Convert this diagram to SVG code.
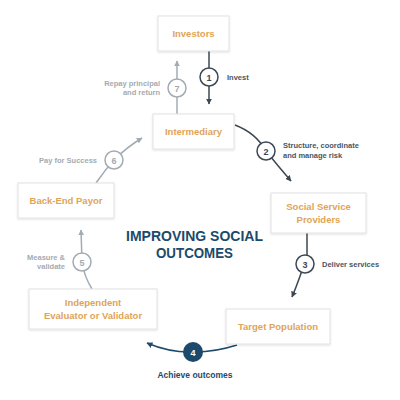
<svg xmlns="http://www.w3.org/2000/svg" width="400" height="400" viewBox="0 0 400 400">
<defs>
<filter id="sh" x="-10%" y="-10%" width="130%" height="140%">
<feDropShadow dx="0" dy="1" stdDeviation="1" flood-color="#000" flood-opacity="0.12"/>
</filter>
<marker id="ad" viewBox="0 0 10 10" refX="9" refY="5" markerWidth="6" markerHeight="6" orient="auto-start-reverse" markerUnits="userSpaceOnUse"><path d="M0,0 L10,5 L0,10 z" fill="#3d4852"/></marker>
<marker id="ag" viewBox="0 0 10 10" refX="9" refY="5" markerWidth="6" markerHeight="6" orient="auto-start-reverse" markerUnits="userSpaceOnUse"><path d="M0,0 L10,5 L0,10 z" fill="#a3abb2"/></marker>
<marker id="an" viewBox="0 0 10 10" refX="9" refY="5" markerWidth="6" markerHeight="6" orient="auto-start-reverse" markerUnits="userSpaceOnUse"><path d="M0,0 L10,5 L0,10 z" fill="#1d4a6b"/></marker>
</defs>
<style>
.box{fill:#fff;stroke:#e2e2e2;stroke-width:1;filter:url(#sh)}
.nt{font-family:"Liberation Sans",Arial,sans-serif;font-weight:bold;font-size:9.5px;fill:#e0a456;text-anchor:middle}
.cd{fill:#fff;stroke:#3d4852;stroke-width:1.5}
.cg{fill:#fff;stroke:#a3abb2;stroke-width:1.5}
.ld{fill:none;stroke:#3d4852;stroke-width:1.5}
.lg{fill:none;stroke:#a3abb2;stroke-width:1.5}
.numd{font-family:"Liberation Sans",Arial,sans-serif;font-weight:bold;font-size:9px;fill:#3d4852;text-anchor:middle}
.numg{font-family:"Liberation Sans",Arial,sans-serif;font-weight:bold;font-size:9px;fill:#a3abb2;text-anchor:middle}
.lbd{font-family:"Liberation Sans",Arial,sans-serif;font-weight:bold;font-size:7.5px;fill:#4a5561}
.lbg{font-family:"Liberation Sans",Arial,sans-serif;font-weight:bold;font-size:7.5px;fill:#a3abb2;text-anchor:end}
.title{font-family:"Liberation Sans",Arial,sans-serif;font-weight:bold;font-size:15px;fill:#1d4a6b;text-anchor:middle}
</style>
<rect width="400" height="400" fill="#fff"/>
<g id="connectors">
<line class="ld" x1="209" y1="51" x2="209" y2="104" marker-end="url(#ad)"/>
<line class="lg" x1="177" y1="114" x2="177" y2="61" marker-end="url(#ag)"/>
<path class="ld" d="M235,125 Q256,133 266,151 Q278,166 291,181" marker-end="url(#ad)"/>
<path class="ld" d="M307,233 L307,255 Q300,278 292,297" marker-end="url(#ad)"/>
<path class="ld" d="M237,345 Q215,352 195,352" style="stroke:#1d4a6b"/>
<path class="ld" d="M190,352 Q168,352 147,343" style="stroke:#1d4a6b" marker-end="url(#an)"/>
<path class="lg" d="M92,289 Q84,276 82,262 L81,230" marker-end="url(#ag)"/>
<path class="lg" d="M96,183 Q105,170 114,160 Q127,147 142,138" marker-end="url(#ag)"/>
<circle class="cd" cx="209" cy="77" r="9"/><text class="numd" x="209" y="80.5">1</text>
<text class="lbd" x="227" y="80">Invest</text>
<circle class="cg" cx="177" cy="88" r="9"/><text class="numg" x="177" y="91.5">7</text>
<text class="lbg" x="160" y="86">Repay principal</text>
<text class="lbg" x="160" y="95">and return</text>
<circle class="cd" cx="266" cy="151" r="9"/><text class="numd" x="266" y="154.5">2</text>
<text class="lbd" x="283" y="148">Structure, coordinate</text>
<text class="lbd" x="283" y="157.5">and manage risk</text>
<circle class="cd" cx="305" cy="264" r="9"/><text class="numd" x="305" y="267.5">3</text>
<text class="lbd" x="322" y="267">Deliver services</text>
<circle cx="193" cy="352" r="10" fill="#1d4a6b"/><text class="numd" x="193" y="355.5" style="fill:#fff">4</text>
<text class="lbd" x="195" y="378" style="text-anchor:middle;fill:#1d4a6b;font-size:8.5px">Achieve outcomes</text>
<circle class="cg" cx="82" cy="262" r="9"/><text class="numg" x="82" y="265.5">5</text>
<text class="lbg" x="65" y="260">Measure &amp;</text>
<text class="lbg" x="65" y="269">validate</text>
<circle class="cg" cx="114" cy="160" r="9"/><text class="numg" x="114" y="163.5">6</text>
<text class="lbg" x="97" y="162.5">Pay for Success</text>
</g>
<g id="investors"><rect class="box" x="158" y="16" width="71" height="35"/><text class="nt" x="193.5" y="37">Investors</text></g>
<g id="intermediary"><rect class="box" x="153" y="114" width="81" height="35"/><text class="nt" x="193.5" y="135">Intermediary</text></g>
<g id="providers"><rect class="box" x="271" y="193" width="95" height="40"/><text class="nt" x="318.5" y="210">Social Service</text><text class="nt" x="318.5" y="223">Providers</text></g>
<g id="target"><rect class="box" x="226" y="309" width="104" height="35"/><text class="nt" x="278" y="330">Target Population</text></g>
<g id="evaluator"><rect class="box" x="29" y="289" width="128" height="40"/><text class="nt" x="93" y="306">Independent</text><text class="nt" x="93" y="319">Evaluator or Validator</text></g>
<g id="payor"><rect class="box" x="18" y="183" width="96" height="35"/><text class="nt" x="66" y="204">Back-End Payor</text></g>
<g id="title"><text class="title" x="194.5" y="241" textLength="137" lengthAdjust="spacingAndGlyphs">IMPROVING SOCIAL</text><text class="title" x="194.5" y="258" textLength="77" lengthAdjust="spacingAndGlyphs">OUTCOMES</text></g>
</svg>
